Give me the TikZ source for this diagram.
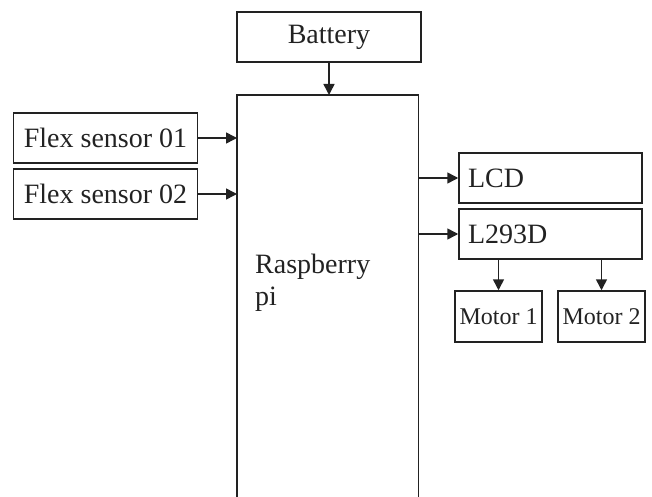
\documentclass[tikz,border=0pt]{standalone}
\usepackage{fontspec}
\setmainfont{Liberation Serif}
\usetikzlibrary{arrows.meta}
\definecolor{ink}{HTML}{222222}
\begin{document}
\begin{tikzpicture}[x=1pt,y=-1pt,
  box/.style={draw=ink,line width=1.5pt,inner sep=0pt,font=\fontsize{28}{32}\selectfont,text=ink},
  leftbox/.style={box,text width=165pt,inner xsep=9pt,align=left},
  motorbox/.style={box,font=\fontsize{24}{28}\selectfont},
  arr/.style={draw=ink,line width=1.5pt,-{Triangle[length=11pt,width=11pt]}}]
\useasboundingbox (0,0) rectangle (652,497);
\node[box,minimum width=184pt,minimum height=50pt] (battery) at (329,37) {Battery};
\node[inner sep=0pt,minimum width=181pt,minimum height=402pt,anchor=north west] (pi) at (237,95) {};
\draw[draw=ink,line width=1.5pt] (pi.south west) -- (pi.north west) -- (pi.north east) -- (pi.south east);
\node[text=ink,font=\fontsize{28}{32}\selectfont,align=left,anchor=base west,inner sep=0pt] (pitext) at (255,305) {Raspberry\\pi};
\node[box,minimum width=184pt,minimum height=50pt] (flex1) at (105.5,138) {Flex sensor 01};
\node[box,minimum width=184pt,minimum height=50pt] (flex2) at (105.5,194) {Flex sensor 02};
\node[leftbox,minimum height=50pt] (lcd) at (550.5,178) {LCD};
\node[leftbox,minimum height=50pt] (l293d) at (550.5,234) {L293D};
\node[motorbox,minimum width=87pt,minimum height=51pt] (motor1) at (498.5,316.5) {Motor 1};
\node[motorbox,minimum width=87pt,minimum height=51pt] (motor2) at (601.5,316.5) {Motor 2};
\draw[arr] (battery.south) -- (battery.south |- pi.north);
\draw[arr] (flex1.east) -- (flex1.east -| pi.west);
\draw[arr] (flex2.east) -- (flex2.east -| pi.west);
\draw[arr] (lcd.west -| pi.east) -- (lcd.west);
\draw[arr] (l293d.west -| pi.east) -- (l293d.west);
\draw[arr] (motor1.north |- l293d.south) -- (motor1.north);
\draw[arr] (motor2.north |- l293d.south) -- (motor2.north);
\end{tikzpicture}
\end{document}
